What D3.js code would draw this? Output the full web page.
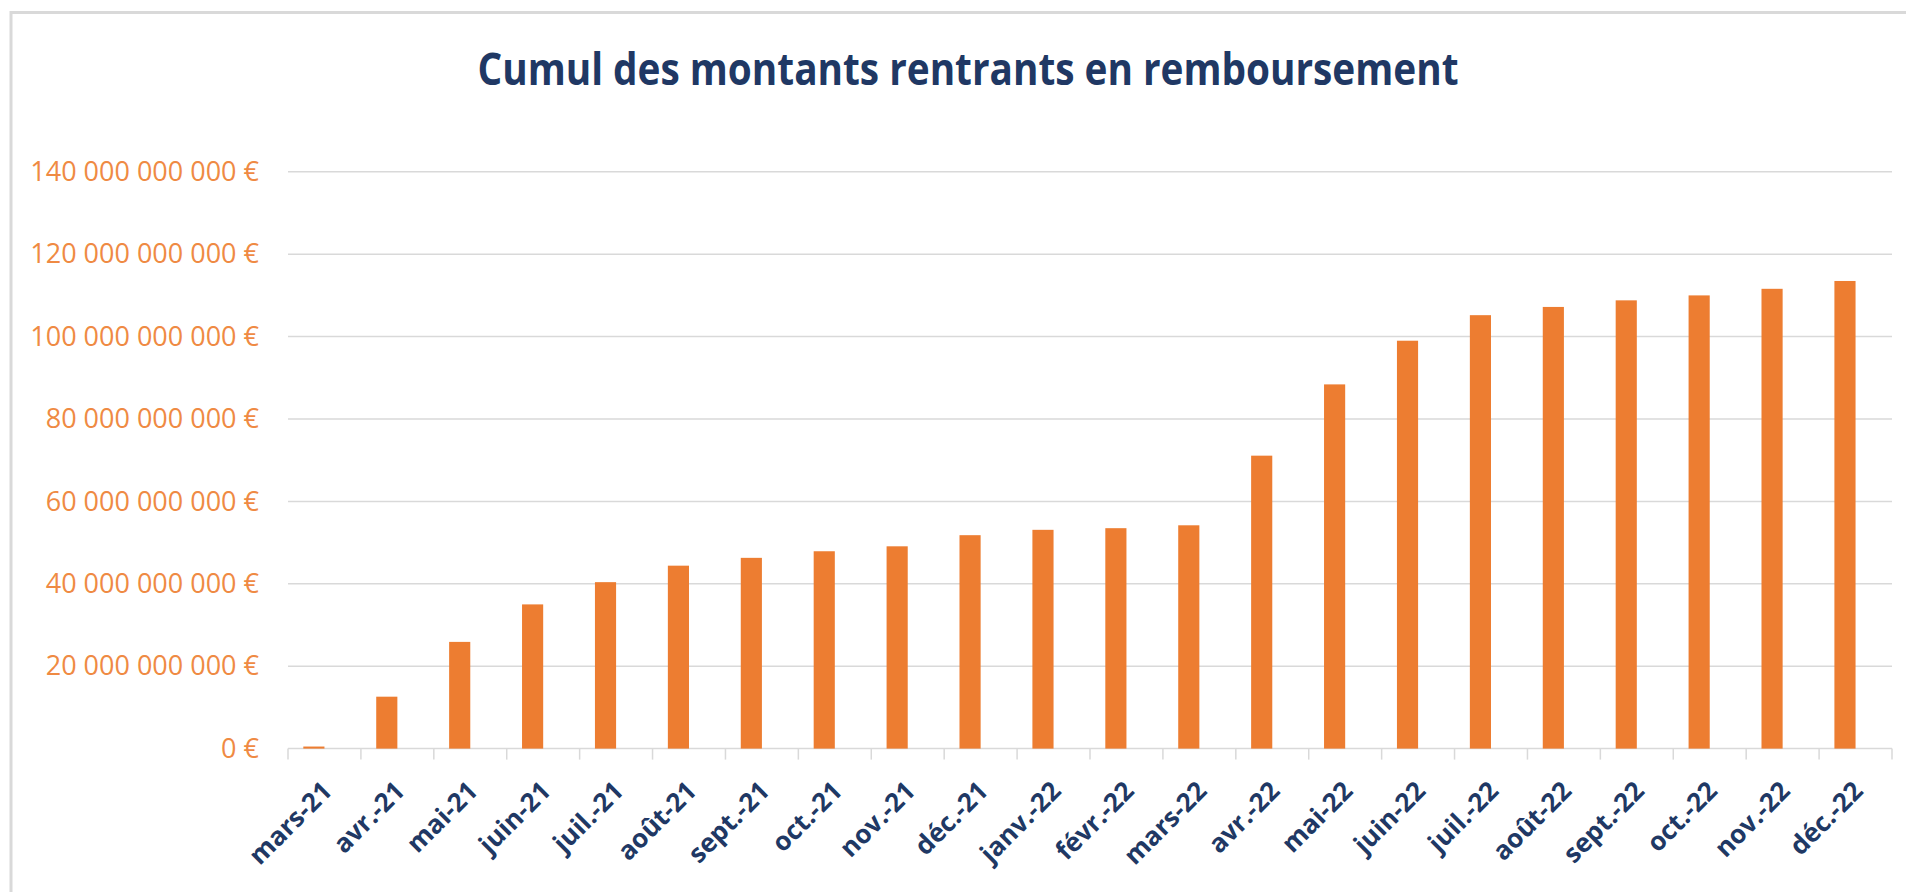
<!DOCTYPE html>
<html>
<head>
<meta charset="utf-8">
<script src="https://cdn.jsdelivr.net/npm/d3@7"></script>
<style>
  html, body { margin: 0; padding: 0; background: #fff; }
  svg { display: block; }
</style>
</head>
<body>
<svg id="chart" width="1906" height="892"></svg>
<script>
const title = "Cumul des montants rentrants en remboursement";
const categories = ["mars-21","avr.-21","mai-21","juin-21","juil.-21","août-21","sept.-21","oct.-21","nov.-21","déc.-21","janv.-22","févr.-22","mars-22","avr.-22","mai-22","juin-22","juil.-22","août-22","sept.-22","oct.-22","nov.-22","déc.-22"];
const values = [0.5e9, 12.6e9, 25.9e9, 35.0e9, 40.4e9, 44.4e9, 46.3e9, 47.9e9, 49.1e9, 51.8e9, 53.1e9, 53.5e9, 54.2e9, 71.1e9, 88.4e9, 99.0e9, 105.2e9, 107.2e9, 108.8e9, 110.0e9, 111.6e9, 113.5e9];
const yTicks = [0, 20e9, 40e9, 60e9, 80e9, 100e9, 120e9, 140e9];

const svg = d3.select("#chart");
const W = 1906, H = 892;
const margin = {left: 288, right: 14, top: 171.8, bottom: 143.4};

// chart border (only top/left visible in the crop)
svg.append("rect")
  .attr("x", 11).attr("y", 12.5).attr("width", 2100).attr("height", 1100)
  .attr("fill", "none").attr("stroke", "#D9D9D9").attr("stroke-width", 3);

const x = d3.scaleBand().domain(categories).range([margin.left, W - margin.right]).padding(0);
const y = d3.scaleLinear().domain([0, 140e9]).range([H - margin.bottom, margin.top]);

const locale = d3.formatLocale({decimal: ",", thousands: " ", grouping: [3], currency: ["", " €"]});
const fmt = locale.format("$,.0f");

// gridlines
svg.append("g").selectAll("line").data(yTicks.filter(d => d > 0)).join("line")
  .attr("x1", margin.left).attr("x2", W - margin.right)
  .attr("y1", d => y(d)).attr("y2", d => y(d))
  .attr("stroke", "#D9D9D9").attr("stroke-width", 1.5);

// y axis labels
const yAxis = d3.axisLeft(y).tickValues(yTicks).tickFormat(fmt).tickSize(0).tickPadding(29);
const gy = svg.append("g").attr("transform", `translate(${margin.left},0)`).call(yAxis);
gy.select(".domain").remove();
gy.selectAll("text")
  .attr("fill", "#EF8A43")
  .style("font-family", "'Open Sans', sans-serif")
  .style("font-size", "27px");

// x axis
const gx = svg.append("g").attr("transform", `translate(0,${y(0)})`);
gx.append("line").attr("x1", margin.left).attr("x2", W - margin.right)
  .attr("y1", 0).attr("y2", 0).attr("stroke", "#D9D9D9").attr("stroke-width", 1.5);
const bounds = categories.map(c => x(c)).concat([x(categories[categories.length-1]) + x.bandwidth()]);
gx.selectAll("line.tick").data(bounds).join("line").attr("class", "tick")
  .attr("x1", d => d).attr("x2", d => d).attr("y1", 0).attr("y2", 11)
  .attr("stroke", "#D9D9D9").attr("stroke-width", 1.5);
gx.selectAll("text").data(categories).join("text")
  .attr("transform", d => `translate(${x(d) + x.bandwidth()/2 + 9},${44}) rotate(-45)`)
  .attr("text-anchor", "end")
  .attr("fill", "#203864")
  .style("font-family", "'Open Sans', sans-serif")
  .style("font-weight", "700")
  .style("font-size", "26px")
  .text(d => d);

// bars: occupy left half-slot (second empty series in original)
const barW = x.bandwidth() * 0.29;
svg.append("g").selectAll("rect").data(categories).join("rect")
  .attr("x", (d) => x(d) + x.bandwidth()/2 - barW)
  .attr("width", barW)
  .attr("y", (d, i) => y(values[i]))
  .attr("height", (d, i) => y(0) - y(values[i]))
  .attr("fill", "#ED7D31");

// title
svg.append("text")
  .attr("x", 968).attr("y", 85)
  .attr("text-anchor", "middle")
  .attr("fill", "#203864")
  .attr("textLength", 981)
  .attr("lengthAdjust", "spacingAndGlyphs")
  .style("font-family", "'Open Sans', sans-serif")
  .style("font-weight", "700")
  .style("font-size", "44px")
  .text(title);
</script>
</body>
</html>
